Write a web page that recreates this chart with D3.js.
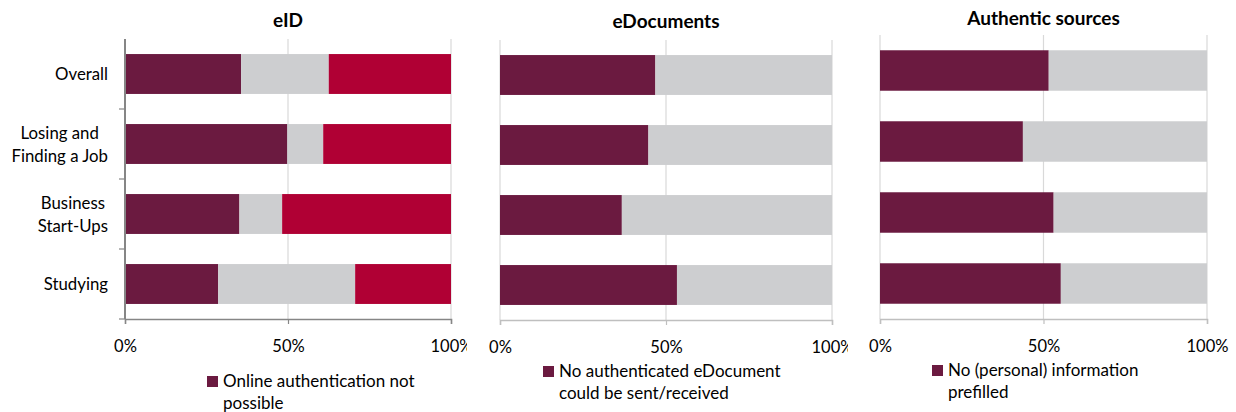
<!DOCTYPE html>
<meta charset="utf-8">
<title>eGovernment barriers</title>
<style>
body { margin: 0; background: #fff; }
svg text { font-family: Lato, "Open Sans", sans-serif; fill: #000; }
.title { font-weight: bold; font-size: 19px; }
.tick text { font-size: 16.5px; }
.leg { font-size: 17px; }
.cat { font-size: 16.8px; }
</style>
<script src="https://d3js.org/d3.v7.min.js"></script>
<body>
<script>
var width = 1236, height = 412;

var categories = ["Overall", "Losing and\nFinding a Job", "Business\nStart-Ups", "Studying"];
var ticks = [0, 50, 100];

// eID: three stacked shares per category
var eidNoAuth = [35.6, 49.8, 35.1, 28.6];
var eidGrey   = [26.9, 11.0, 13.1, 42.0];
var eidRed    = [37.5, 39.2, 51.8, 29.4];
// eDocuments
var docNo   = [46.8, 44.7, 36.7, 53.3];
var docRest = [53.2, 55.3, 63.3, 46.7];
// Authentic sources
var srcNo   = [51.6, 43.7, 53.1, 55.3];
var srcRest = [48.4, 56.3, 46.9, 44.7];

var colPurple = "#6b1a40", colGrey = "#cdced0", colRed = "#b00034";

var panels = [
  { title: "eID", ty: 27, x0: 125, x1: 451, y0: 39, y1: 319, clip: 467, yAxis: true,
    series: [eidNoAuth, eidGrey, eidRed], colors: [colPurple, colGrey, colRed],
    legend: ["Online authentication not", "possible"], lx: 207, ly: 376 },
  { title: "eDocuments", ty: 28, x0: 500, x1: 832, y0: 40, y1: 320, clip: 848, yAxis: false,
    series: [docNo, docRest], colors: [colPurple, colGrey],
    legend: ["No authenticated eDocument", "could be sent/received"], lx: 543, ly: 366 },
  { title: "Authentic sources", ty: 25, x0: 880, x1: 1207, y0: 35, y1: 319, clip: 1236, yAxis: false,
    series: [srcNo, srcRest], colors: [colPurple, colGrey],
    legend: ["No (personal) information", "prefilled"], lx: 932, ly: 365 }
];

var svg = d3.select("body").append("svg")
    .attr("width", width)
    .attr("height", height);

panels.forEach(function(p, pi) {
  var x = d3.scaleLinear().domain([0, 100]).range([p.x0, p.x1]);
  var y = d3.scaleBand().domain(categories).range([p.y0, p.y1]).paddingInner(0.43).paddingOuter(0.215);

  svg.append("clipPath").attr("id", "clip" + pi)
    .append("rect").attr("x", p.x0 - 130).attr("y", 0).attr("width", p.clip - p.x0 + 130).attr("height", height);
  var g = svg.append("g").attr("clip-path", "url(#clip" + pi + ")");

  // gridlines
  g.selectAll("line.grid").data(ticks).enter().append("line")
    .attr("x1", function(d) { return x(d); }).attr("x2", function(d) { return x(d); })
    .attr("y1", p.y0).attr("y2", p.y1)
    .attr("stroke", "#d9d9d9").attr("stroke-width", 1.2);

  // stacked bars
  var offsets = categories.map(function() { return 0; });
  p.series.forEach(function(s, si) {
    g.selectAll(null).data(s).enter().append("rect")
      .attr("x", function(d, i) { return x(offsets[i]); })
      .attr("y", function(d, i) { return y(categories[i]); })
      .attr("width", function(d) { return x(d) - x(0); })
      .attr("height", y.bandwidth())
      .attr("fill", p.colors[si]);
    s.forEach(function(d, i) { offsets[i] += d; });
  });

  // x axis
  var xa = g.append("g").attr("transform", "translate(0," + p.y1 + ")")
    .call(d3.axisBottom(x).tickValues(ticks).tickSize(5).tickPadding(16)
      .tickFormat(function(d) { return d + "%"; }));
  xa.select(".domain").attr("stroke", p.yAxis ? "#868686" : "#bfbfbf").attr("stroke-width", 1.5);
  xa.selectAll(".tick line").attr("stroke", p.yAxis ? "#868686" : "#bfbfbf").attr("stroke-width", 1.2);
  xa.attr("font-family", null).attr("font-size", null);

  // y axis (first panel only)
  if (p.yAxis) {
    g.append("line").attr("x1", p.x0).attr("x2", p.x0).attr("y1", p.y0).attr("y2", p.y1)
      .attr("stroke", "#868686").attr("stroke-width", 2);
    var step = y.step();
    g.selectAll(null).data(d3.range(1, 5)).enter().append("line")
      .attr("x1", p.x0 - 6).attr("x2", p.x0)
      .attr("y1", function(d) { return p.y0 + d * step; })
      .attr("y2", function(d) { return p.y0 + d * step; })
      .attr("stroke", "#868686").attr("stroke-width", 1.2);

    categories.forEach(function(c) {
      var lines = c.split("\n");
      var cy = y(c) + y.bandwidth() / 2;
      var t = g.append("text").attr("class", "cat").attr("text-anchor", "middle");
      lines.forEach(function(l, li) {
        t.append("tspan").text(l).attr("y", cy + 6 + (li - (lines.length - 1) / 2) * 23);
      });
      var maxw = 0;
      t.selectAll("tspan").each(function() { maxw = Math.max(maxw, this.getComputedTextLength()); });
      t.selectAll("tspan").attr("x", 108 - maxw / 2);
    });
  }

  // title
  svg.append("text").attr("class", "title").attr("text-anchor", "middle")
    .attr("x", (p.x0 + p.x1) / 2)
    .attr("y", p.ty).text(p.title);

  // legend
  svg.append("rect").attr("x", p.lx).attr("y", p.ly).attr("width", 11).attr("height", 11).attr("fill", colPurple);
  p.legend.forEach(function(l, li) {
    svg.append("text").attr("class", "leg").attr("x", p.lx + 16).attr("y", p.ly + 11 + li * 22).text(l);
  });
});
</script>
